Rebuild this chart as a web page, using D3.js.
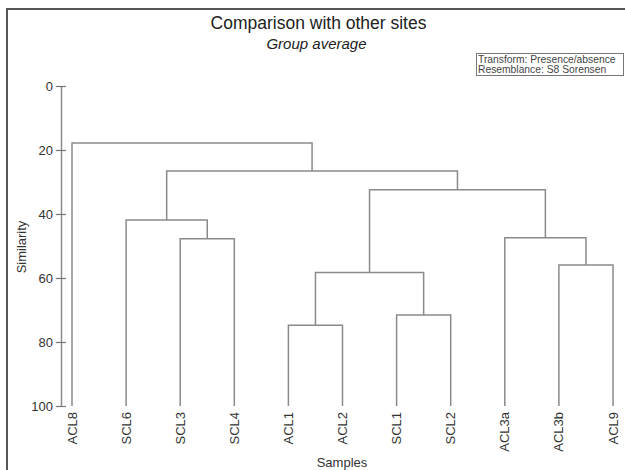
<!DOCTYPE html>
<html lang="en">
<head>
    <meta charset="UTF-8">
    <title>Comparison with other sites</title>
    <script src="https://cdnjs.cloudflare.com/ajax/libs/d3/7.8.5/d3.min.js"></script>
    <style>
        body {
            margin: 0;
            background: #fff;
        }
        svg {
            display: block;
            font-family: "Liberation Sans", Arial, sans-serif;
        }
    </style>
</head>
<body>
    <svg id="chart" width="625" height="470"></svg>

    <script>
        // leaf order along the x axis
        const samples = ["ACL8", "SCL6", "SCL3", "SCL4", "ACL1", "ACL2", "SCL1", "SCL2", "ACL3a", "ACL3b", "ACL9"];

        // merges, in the order they happen: id = left + right at similarity
        const mergeIds = ["c1", "c2", "c3", "c4", "c5", "c6", "c7", "c8", "c9", "c10"];
        const mergeLeft = ["SCL3", "ACL1", "SCL1", "ACL3b", "SCL6", "c2", "ACL3a", "c6", "c5", "ACL8"];
        const mergeRight = ["SCL4", "ACL2", "SCL2", "ACL9", "c1", "c3", "c4", "c7", "c8", "c9"];
        const mergeSimilarity = [47.7, 74.8, 71.6, 55.9, 41.9, 58.3, 47.4, 32.4, 26.6, 17.8];

        const yTicks = [0, 20, 40, 60, 80, 100];
        const infoLines = ["Transform: Presence/absence", "Resemblance: S8 Sorensen"];

        const svg = d3.select("#chart");
        const lineColor = "#8a8a8a";
        const textColor = "#333";

        // frame (top + left edge of the window)
        svg.append("path")
            .attr("d", "M7,470 V9 H625")
            .attr("fill", "none")
            .attr("stroke", "#555")
            .attr("stroke-width", 2);

        const x = d3.scalePoint().domain(samples).range([72, 613]);
        const y = d3.scaleLinear().domain([0, 100]).range([86, 406]);

        // node positions
        const pos = {};
        samples.forEach(s => pos[s] = { x: x(s), y: y(100) });
        mergeIds.forEach((id, i) => {
            const a = pos[mergeLeft[i]], b = pos[mergeRight[i]];
            pos[id] = { x: (a.x + b.x) / 2, y: y(mergeSimilarity[i]) };
        });

        const g = svg.append("g")
            .attr("fill", "none")
            .attr("stroke", lineColor)
            .attr("stroke-width", 1.5);

        mergeIds.forEach((id, i) => {
            const a = pos[mergeLeft[i]], b = pos[mergeRight[i]], m = pos[id];
            g.append("path")
                .attr("d", `M${a.x},${a.y} V${m.y} H${b.x} V${b.y}`);
        });

        // y axis
        const yAxis = svg.append("g")
            .attr("transform", "translate(61,0)")
            .call(d3.axisLeft(y).tickValues(yTicks).tickSize(5).tickSizeOuter(0).tickPadding(4));
        yAxis.select(".domain").attr("stroke", lineColor).attr("stroke-width", 1.5);
        yAxis.selectAll(".tick line")
            .attr("x2", 5).attr("x1", -5)
            .attr("stroke", "#777").attr("stroke-width", 1.2);
        yAxis.selectAll(".tick text")
            .attr("x", -8)
            .attr("fill", textColor)
            .attr("font-size", 13)
            .attr("font-family", "\"Liberation Sans\", Arial, sans-serif");

        svg.append("text")
            .attr("transform", "translate(26,247) rotate(-90)")
            .attr("text-anchor", "middle")
            .attr("fill", textColor)
            .attr("font-size", 13)
            .text("Similarity");

        // leaf labels
        svg.append("g").selectAll("text")
            .data(samples)
            .join("text")
            .attr("transform", d => `translate(${x(d)},412) rotate(-90)`)
            .attr("text-anchor", "end")
            .attr("dy", "0.35em")
            .attr("fill", textColor)
            .attr("font-size", 13)
            .text(d => d);

        svg.append("text")
            .attr("x", 342)
            .attr("y", 467)
            .attr("text-anchor", "middle")
            .attr("fill", textColor)
            .attr("font-size", 13)
            .text("Samples");

        // titles
        svg.append("text")
            .attr("x", 318.5)
            .attr("y", 29)
            .attr("text-anchor", "middle")
            .attr("fill", "#222")
            .attr("font-size", 17.5)
            .text("Comparison with other sites");

        svg.append("text")
            .attr("x", 316.5)
            .attr("y", 48.5)
            .attr("text-anchor", "middle")
            .attr("fill", "#222")
            .attr("font-size", 15)
            .attr("font-style", "italic")
            .text("Group average");

        // info box
        svg.append("rect")
            .attr("x", 476.5)
            .attr("y", 53.5)
            .attr("width", 147)
            .attr("height", 22)
            .attr("fill", "#fff")
            .attr("stroke", "#777")
            .attr("stroke-width", 1);

        svg.append("g").selectAll("text")
            .data(infoLines)
            .join("text")
            .attr("x", 478)
            .attr("y", (d, i) => 63 + i * 9.5)
            .attr("fill", "#444")
            .attr("font-size", 10.3)
            .text(d => d);
    </script>
</body>
</html>
